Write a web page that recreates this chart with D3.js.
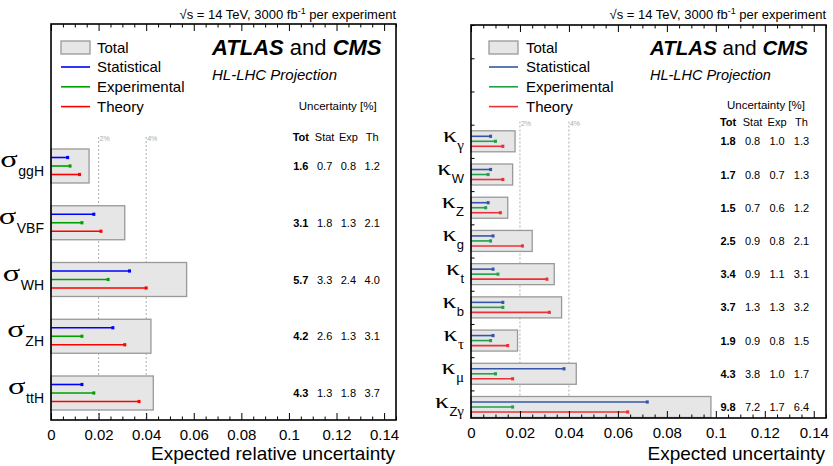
<!DOCTYPE html>
<html>
<head>
<meta charset="utf-8">
<script src="https://cdn.jsdelivr.net/npm/d3@7"></script>
<style>
  body { margin: 0; background: #fff; }
  svg { font-family: "Liberation Sans", Arial, sans-serif; }
</style>
</head>
<body>
<svg id="chart" width="833" height="466"></svg>
<script>
"use strict";

// production cross sections (left panel), uncertainties in %
const prodNames = ["ggH", "VBF", "WH", "ZH", "ttH"];
const prodTot  = [1.6, 3.1, 5.7, 4.2, 4.3];
const prodStat = [0.7, 1.8, 3.3, 2.6, 1.3];
const prodExp  = [0.8, 1.3, 2.4, 1.3, 1.8];
const prodTh   = [1.2, 2.1, 4.0, 3.1, 3.7];

// coupling modifiers (right panel), uncertainties in %
const kappaNames = ["γ", "W", "Z", "g", "t", "b", "τ", "μ", "Zγ"];
const kappaTot  = [1.8, 1.7, 1.5, 2.5, 3.4, 3.7, 1.9, 4.3, 9.8];
const kappaStat = [0.8, 0.8, 0.7, 0.9, 0.9, 1.3, 0.9, 3.8, 7.2];
const kappaExp  = [1.0, 0.7, 0.6, 0.8, 1.1, 1.3, 0.8, 1.0, 1.7];
const kappaTh   = [1.3, 1.3, 1.2, 2.1, 3.1, 3.2, 1.5, 1.7, 6.4];

const xTicks = [0, 0.02, 0.04, 0.06, 0.08, 0.1, 0.12, 0.14];
const xTickLabels = ["0", "0.02", "0.04", "0.06", "0.08", "0.1", "0.12", "0.14"];
const refLines = [0.02, 0.04];
const refLabels = ["2%", "4%"];
const legendNames = ["Statistical", "Experimental", "Theory"];
const colHeads = ["Tot", "Stat", "Exp", "Th"];
const colPos = [0.105, 0.115, 0.125, 0.135];

const svg = d3.select("#chart");
const fmt = d3.format(".1f");
const serif = "'Liberation Serif', 'DejaVu Serif', serif";

drawPanel({
    left: 51, right: 396, top: 24, bottom: 420,
    firstRow: 166, lastRow: 393, barH: 34, off: 8.5,
    symbol: "σ", symSize: 24, symStretch: 1.35, subSize: 14, symDy: 1, subDy: 10,
    names: prodNames, tot: prodTot, stat: prodStat, exp: prodExp, th: prodTh,
    colors: ["#0000ff", "#00a000", "#ff0000"],
    headY: 141, uncY: 110, legX: 10, legTextX: 46, atlasX: 161, atlasSize: 22, hlSize: 15,
    xTitle: "Expected relative uncertainty", rowTicks: false
});

drawPanel({
    left: 471, right: 826, top: 25, bottom: 418,
    firstRow: 141.3, lastRow: 407, barH: 21, off: 5,
    symbol: "κ", symSize: 22, symStretch: 1.25, subSize: 13, symDy: 0.5, subDy: 8.5,
    names: kappaNames, tot: kappaTot, stat: kappaStat, exp: kappaExp, th: kappaTh,
    colors: ["#3556a8", "#22a04a", "#ec3038"],
    headY: 125.5, uncY: 108.5, legX: 18, legTextX: 55, atlasX: 179, atlasSize: 20.5, hlSize: 14.5,
    xTitle: "Expected uncertainty", rowTicks: true
});

function drawPanel (p) {
    const n = p.names.length;
    const x = d3.scaleLinear().domain([0, 0.145]).range([p.left, p.right]);
    const y = d3.scaleLinear().domain([0, n - 1]).range([p.firstRow, p.lastRow]);
    const g = svg.append("g");

    // dashed reference lines
    refLines.forEach((v, i) => {
        g.append("line")
            .attr("x1", x(v)).attr("x2", x(v))
            .attr("y1", p.headY - 4).attr("y2", p.bottom)
            .attr("stroke", "#999").attr("stroke-width", 0.8)
            .attr("stroke-dasharray", "2,2");
        g.append("text")
            .attr("x", x(v) + 1).attr("y", p.headY)
            .attr("font-size", 7).attr("fill", "#aaa")
            .text(refLabels[i]);
    });

    const rows = p.names.map((d, i) => ({
        name: d, tot: p.tot[i], vals: [p.stat[i], p.exp[i], p.th[i]], i: i
    }));

    // total boxes
    g.selectAll(".box").data(rows).enter().append("rect")
        .attr("class", "box")
        .attr("x", x(0))
        .attr("y", d => y(d.i) - p.barH / 2)
        .attr("width", d => x(d.tot / 100) - x(0))
        .attr("height", p.barH)
        .attr("fill", "#e6e6e6")
        .attr("stroke", "#999")
        .attr("stroke-width", 1.3);

    // component lines
    rows.forEach((r) => {
        r.vals.forEach((v, k) => {
            const yy = y(r.i) + (k - 1) * p.off;
            g.append("line")
                .attr("x1", x(0)).attr("x2", x(v / 100))
                .attr("y1", yy).attr("y2", yy)
                .attr("stroke", p.colors[k]).attr("stroke-width", 1.6);
            g.append("rect")
                .attr("x", x(v / 100) - 1.5).attr("y", yy - 1.6)
                .attr("width", 3).attr("height", 3.2)
                .attr("fill", p.colors[k]);
        });
    });

    // row labels: subscript first (right aligned), then stretched symbol before it
    rows.forEach((r) => {
        const sub = g.append("text")
            .attr("x", p.left - 7)
            .attr("y", y(r.i) + p.subDy)
            .attr("text-anchor", "end");
        r.name.split("").forEach((c) => {
            const greek = /[\u0370-\u03ff]/.test(c);
            sub.append("tspan")
                .attr("font-size", greek ? p.subSize + 2 : p.subSize)
                .attr("font-family", greek ? serif : null)
                .text(c);
        });
        const w = sub.node().getComputedTextLength();
        const sx = p.left - 7 - w - 0.5;
        g.append("text")
            .attr("transform", `translate(${sx},${y(r.i) + p.symDy}) scale(${p.symStretch},1)`)
            .attr("text-anchor", "end")
            .attr("font-family", serif)
            .attr("font-size", p.symSize)
            .text(p.symbol);
    });

    // table of numbers
    g.selectAll(".head").data(colHeads).enter().append("text")
        .attr("x", (d, i) => x(colPos[i]))
        .attr("y", p.headY)
        .attr("text-anchor", "middle")
        .attr("font-size", 11)
        .attr("font-weight", (d, i) => i === 0 ? "bold" : null)
        .text(d => d);
    rows.forEach((r) => {
        [r.tot].concat(r.vals).forEach((v, k) => {
            g.append("text")
                .attr("x", x(colPos[k]))
                .attr("y", y(r.i) + 4)
                .attr("text-anchor", "middle")
                .attr("font-size", 11)
                .attr("font-weight", k === 0 ? "bold" : null)
                .text(fmt(v));
        });
    });
    g.append("text")
        .attr("x", x(0.1205)).attr("y", p.uncY)
        .attr("text-anchor", "middle").attr("font-size", 11.5)
        .text("Uncertainty [%]");

    // legend
    const lx = p.left + p.legX;
    g.append("rect")
        .attr("x", lx).attr("y", 41).attr("width", 29).attr("height", 13)
        .attr("fill", "#e6e6e6").attr("stroke", "#999").attr("stroke-width", 1.3);
    g.append("text")
        .attr("x", p.left + p.legTextX).attr("y", 52.5)
        .attr("font-size", 15).text("Total");
    legendNames.forEach((d, k) => {
        const ly = 67 + k * 19.8;
        g.append("line")
            .attr("x1", lx).attr("x2", lx + 29)
            .attr("y1", ly).attr("y2", ly)
            .attr("stroke", p.colors[k]).attr("stroke-width", 1.6);
        g.append("text")
            .attr("x", p.left + p.legTextX).attr("y", ly + 5.3)
            .attr("font-size", 15).text(d);
    });

    // ATLAS and CMS label
    const at = g.append("text")
        .attr("x", p.left + p.atlasX).attr("y", 55)
        .attr("font-size", p.atlasSize);
    at.append("tspan").attr("font-weight", "bold").attr("font-style", "italic").text("ATLAS");
    at.append("tspan").text(" and ");
    at.append("tspan").attr("font-weight", "bold").attr("font-style", "italic").text("CMS");
    g.append("text")
        .attr("x", p.left + p.atlasX).attr("y", 80)
        .attr("font-size", p.hlSize).attr("font-style", "italic")
        .text("HL-LHC Projection");

    // energy / luminosity
    const ti = g.append("text")
        .attr("x", p.right).attr("y", 19)
        .attr("text-anchor", "end").attr("font-size", 13);
    ti.append("tspan").text("√s = 14 TeV, 3000 fb");
    ti.append("tspan").attr("font-size", 9).attr("dy", -5).text("-1");
    ti.append("tspan").attr("dy", 5).text(" per experiment");

    // axes
    const minor = d3.range(0, 0.1451, 0.005).filter(v => Math.abs(v / 0.02 - Math.round(v / 0.02)) > 1e-6);
    const bottom = g.append("g").attr("transform", `translate(0,${p.bottom})`)
        .call(d3.axisBottom(x).tickValues(xTicks).tickSize(-7).tickPadding(9)
            .tickFormat((d, i) => xTickLabels[i]));
    bottom.selectAll("text").attr("font-size", 15).attr("fill", "#000")
        .attr("font-family", "'Liberation Sans', Arial, sans-serif");
    g.append("g").attr("transform", `translate(0,${p.bottom})`)
        .call(d3.axisBottom(x).tickValues(minor).tickSize(-3.5).tickFormat(""));
    g.append("g").attr("transform", `translate(0,${p.top})`)
        .call(d3.axisTop(x).tickValues(xTicks).tickSize(-7).tickFormat(""));
    g.append("g").attr("transform", `translate(0,${p.top})`)
        .call(d3.axisTop(x).tickValues(minor).tickSize(-3.5).tickFormat(""));
    if (p.rowTicks) {
        const bounds = d3.range(-3.5, n - 1, 1);
        g.append("g").attr("transform", `translate(${p.left},0)`)
            .call(d3.axisLeft(y).tickValues(bounds).tickSize(-3.5).tickFormat(""));
    }
    g.selectAll(".domain").remove();
    g.selectAll(".tick line").attr("stroke", "#000").attr("stroke-width", 1);

    g.append("rect")
        .attr("x", p.left).attr("y", p.top)
        .attr("width", p.right - p.left).attr("height", p.bottom - p.top)
        .attr("fill", "none").attr("stroke", "#000").attr("stroke-width", 1.6);

    g.append("text")
        .attr("x", p.right - 1).attr("y", 460)
        .attr("text-anchor", "end").attr("font-size", 19)
        .text(p.xTitle);
}
</script>
</body>
</html>
